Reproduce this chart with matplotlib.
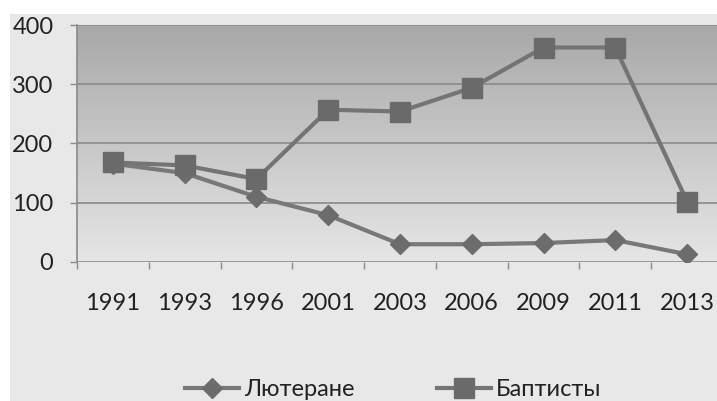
import matplotlib
matplotlib.use("Agg")
import matplotlib.pyplot as plt
import numpy as np
from matplotlib.patches import Rectangle

years = ["1991", "1993", "1996", "2001", "2003", "2006", "2009", "2011", "2013"]
lutherans = [166, 150, 110, 79, 30, 30, 32, 37, 13]
baptists = [168, 163, 140, 257, 254, 294, 362, 362, 102]
y_ticks = [0, 100, 200, 300, 400]

plt.rcParams['font.family'] = ['Lato', 'DejaVu Sans']

W, H = 717, 401
fig = plt.figure(figsize=(W / 100, H / 100), dpi=100, facecolor="white")
fig.patches.append(Rectangle((10 / W, 0), 1, (H - 14) / H, transform=fig.transFigure,
                             facecolor="#e8e8e8", edgecolor="none", zorder=-10))

left, right = 77 / W, 723 / W
bottom, top = 1 - 262 / H, 1 - 25 / H
ax = fig.add_axes([left, bottom, right - left, top - bottom])
ax.set_facecolor("none")

x = np.arange(len(years))
ax.set_xlim(-0.5, len(years) - 0.5)
ax.set_ylim(0, 400)

grad = np.linspace(0, 1, 256).reshape(-1, 1)
ax.imshow(grad, extent=(-0.5, len(years) - 0.5, 0, 400), origin="lower", aspect="auto",
          cmap=matplotlib.colors.LinearSegmentedColormap.from_list("g", ["#e6e6e6", "#a8a8a8"]),
          zorder=0)

for yv in y_ticks:
    ax.axhline(yv, color="#8a8a8a", lw=1.2, zorder=1)

l1, = ax.plot(x, lutherans, color="#787878", lw=3.0, marker="D", markersize=10,
              markerfacecolor="#6c6c6c", markeredgecolor="#6c6c6c", label="Лютеране", zorder=3)
l2, = ax.plot(x, baptists, color="#747474", lw=3.0, marker="s", markersize=14,
              markerfacecolor="#6a6a6a", markeredgecolor="#6a6a6a", label="Баптисты", zorder=4)

for s in ["top", "right", "bottom"]:
    ax.spines[s].set_visible(False)
ax.spines["left"].set_color("#8a8a8a")
ax.spines["left"].set_linewidth(1.2)

ax.set_yticks(y_ticks)
ax.set_yticklabels([str(v) for v in y_ticks])
ax.tick_params(axis="y", length=5, width=1, color="#8a8a8a", pad=12, labelsize=17, labelcolor="#222222")
ax.set_xticks(x)
ax.set_xticklabels(years)
ax.tick_params(axis="x", length=0, pad=22, labelsize=17, labelcolor="#222222")
ax.set_xticks(np.arange(-0.5, len(years), 1), minor=True)
ax.tick_params(axis="x", which="minor", length=5, width=1, color="#8a8a8a")

fig.legend(handles=[l1, l2], loc="center", bbox_to_anchor=(393 / W, 1 - 390 / H), ncol=2,
           frameon=False, fontsize=17, handlelength=2.3, handletextpad=0.2, columnspacing=3.5,
           labelcolor="#222222", borderpad=0)

fig.savefig("out.png", dpi=100, facecolor="white")
